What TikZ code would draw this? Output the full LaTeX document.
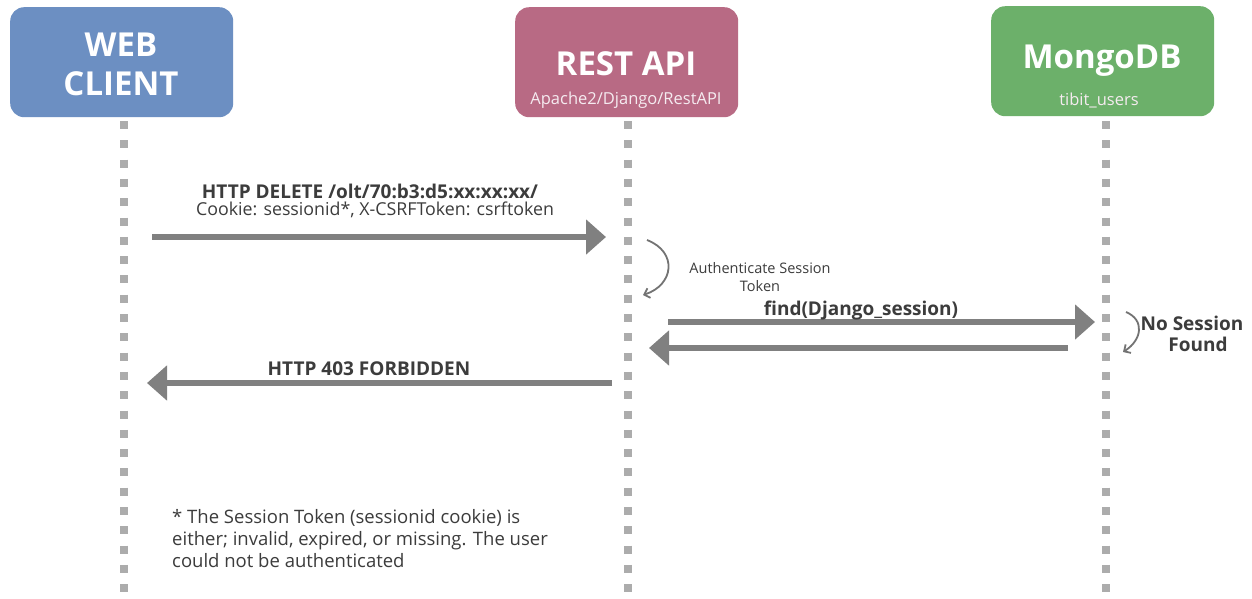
\documentclass[tikz,border=0pt]{standalone}
\usepackage{fontspec}
\setmainfont{Open Sans}
\usetikzlibrary{arrows.meta}
\definecolor{webblue}{RGB}{108,143,194}
\definecolor{restrose}{RGB}{184,106,132}
\definecolor{mongogreen}{RGB}{108,176,106}
\definecolor{arrowgray}{RGB}{128,128,128}
\definecolor{dotgray}{RGB}{172,172,172}
\definecolor{txtgray}{RGB}{60,60,60}
\definecolor{subwhite}{RGB}{245,235,240}
\begin{document}
\begin{tikzpicture}[x=1pt,y=-1pt,
  box/.style={rounded corners=14pt, minimum width=223pt, minimum height=110pt, inner sep=0pt, anchor=north west},
  title/.style={text=white, font=\fontsize{33}{33}\selectfont\bfseries, inner sep=0pt},
  subtitle/.style={text=subwhite, font=\fontsize{16.5}{16.5}\selectfont, inner sep=0pt},
  lifeline/.style={draw=dotgray, line width=7.5pt, dash pattern=on 8pt off 11.3pt},
  msg/.style={draw=arrowgray, line width=6pt, -{Triangle[length=20pt,width=34pt]}},
  selfarrow/.style={draw=arrowgray!90!black, line width=1.8pt, -{Straight Barb[length=5pt,width=10pt,line width=1.8pt]}},
  lbl/.style={text=txtgray, inner sep=0pt, anchor=base},
  blbl/.style={text=txtgray, inner sep=0pt, anchor=base, font=\fontsize{19}{19}\selectfont\bfseries},
  rlbl/.style={text=txtgray, inner sep=0pt, anchor=base, font=\fontsize{17.8}{17.8}\selectfont}
]
\useasboundingbox (0,0) rectangle (1252,598);
\fill[white] (0,0) rectangle (1252,598);

% participant boxes
\node[box, fill=webblue] (web) at (10,7) {};
\node[box, fill=restrose] (rest) at (515,7) {};
\node[box, fill=mongogreen] (mongo) at (991,6) {};
\node[title] (webt1) at (121,45) {WEB};
\node[title] (webt2) at (121,84) {CLIENT};
\node[title] (restt) at (626,64) {REST API};
\node[subtitle] (rests) at (626,100) {Apache2/Django/RestAPI};
\node[title] (mongot) at (1102,61) {MongoDB};
\node[subtitle] (mongos) at (1099,100) {tibit\_users};

% lifelines
\coordinate (wtop) at (124,121);
\coordinate (wbot) at (124,598);
\coordinate (rtop) at (628,121);
\coordinate (rbot) at (628,598);
\coordinate (mtop) at (1106,121);
\coordinate (mbot) at (1106,598);
\draw[lifeline] (wtop) -- (wbot);
\draw[lifeline] (rtop) -- (rbot);
\draw[lifeline] (mtop) -- (mbot);

% message 1
\coordinate (m1s) at (152,237);
\coordinate (m1e) at (606,237);
\draw[msg] (m1s) -- (m1e);
\node[blbl] (m1a) at (370,198.5) {HTTP DELETE /olt/70:b3:d5:xx:xx:xx/};
\node[rlbl] (m1b) at (375,215) {Cookie: sessionid*, X-CSRFToken: csrftoken};

% self: authenticate
\coordinate (a1s) at (647,240);
\coordinate (a1e) at (643,295);
\draw[selfarrow] (a1s) .. controls (678,252) and (674,285) .. (a1e);
\node[lbl, font=\fontsize{14.5}{14.5}\selectfont] (a1l) at (760,273) {Authenticate Session};
\node[lbl, font=\fontsize{14.5}{14.5}\selectfont] (a1m) at (760,291) {Token};

% find
\coordinate (m2s) at (668,322);
\coordinate (m2e) at (1095,322);
\draw[msg] (m2s) -- (m2e);
\node[blbl] (m2l) at (861,315) {find(Django\_session)};

% return
\coordinate (m3s) at (1068,348);
\coordinate (m3e) at (649,348);
\draw[msg] (m3s) -- (m3e);

% self: no session
\coordinate (a2s) at (1126,312);
\coordinate (a2e) at (1123,352);
\draw[selfarrow] (a2s) .. controls (1145,320) and (1142,340) .. (a2e);
\node[blbl] (a2l) at (1192,330) {No Session};
\node[blbl] (a2m) at (1198,351) {Found};

% 403
\coordinate (m4s) at (612,383);
\coordinate (m4e) at (147,383);
\draw[msg] (m4s) -- (m4e);
\node[blbl] (m4l) at (369,375) {HTTP 403 FORBIDDEN};

% footnote
\node[text=txtgray, inner sep=0pt, anchor=base west, font=\fontsize{18.5}{22}\selectfont] (n1) at (172,523) {* The Session Token (sessionid cookie) is};
\node[text=txtgray, inner sep=0pt, anchor=base west, font=\fontsize{18.5}{22}\selectfont] (n2) at (172,545) {either; invalid, expired, or missing. The user};
\node[text=txtgray, inner sep=0pt, anchor=base west, font=\fontsize{18.5}{22}\selectfont] (n3) at (172,567) {could not be authenticated};
\end{tikzpicture}
\end{document}
